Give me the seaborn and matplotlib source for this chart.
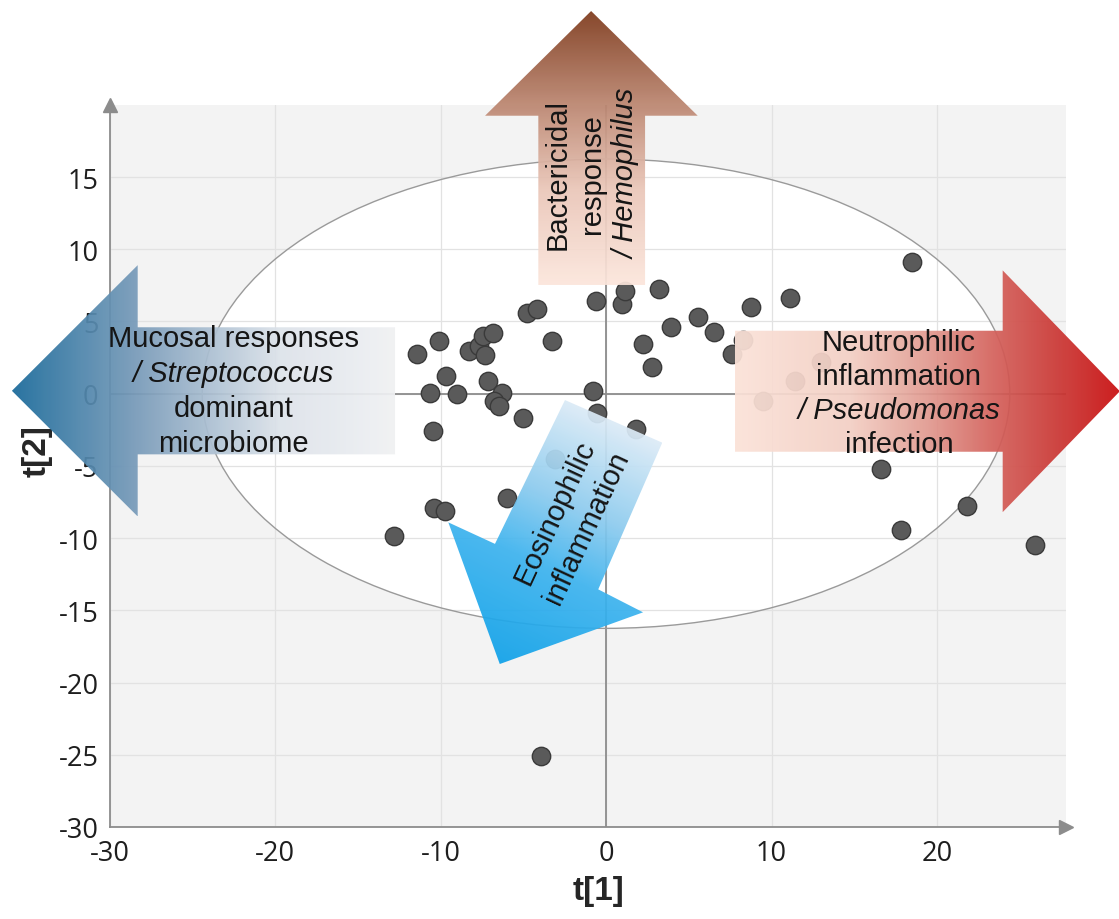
import numpy as np
import matplotlib
matplotlib.use("Agg")
import matplotlib.pyplot as plt
from matplotlib.patches import Ellipse, Polygon
from matplotlib.colors import LinearSegmentedColormap
from matplotlib.ticker import FixedLocator
import seaborn as sns

# PCA scores: first and second component
t1 = [-11.44, -10.11, -9.67, -10.62, -9.00, -10.44, -8.30, -7.66, -7.31, -7.45,
      -6.85, -7.15, -6.30, -6.75, -6.45, -5.00, -4.80, -4.17, -3.26, -0.60,
      -0.79, -0.54, 0.97, 1.15, 3.18, 2.25, 2.76, 3.93, 5.54, 6.55,
      8.76, 11.14, 7.60, 1.80, 18.50, -12.80, -10.40, -9.70, -5.96, -3.93,
      16.60, 21.80, 17.80, 25.90, 8.30, 13.00, 11.40, 9.50, -3.10]
t2 = [2.75, 3.67, 1.25, 0.05, -0.02, -2.56, 2.98, 3.28, 2.68, 3.97,
      4.20, 0.86, 0.05, -0.48, -0.83, -1.70, 5.57, 5.87, 3.67, 6.44,
      0.21, -1.34, 6.21, 7.09, 7.25, 3.44, 1.83, 4.60, 5.29, 4.25,
      5.98, 6.63, 2.75, -2.44, 9.10, -9.83, -7.94, -8.15, -7.22, -25.10,
      -5.20, -7.80, -9.44, -10.50, 3.70, 2.20, 0.90, -0.50, -4.50]

x_ticks = [-30, -20, -10, 0, 10, 20]
x_minor = [-25, -15, -5, 5, 15, 25]
y_ticks = [-30, -25, -20, -15, -10, -5, 0, 5, 10, 15]
y_minor = [-27.5, -22.5, -17.5, -12.5, -7.5, -2.5, 2.5, 7.5, 12.5, 17.5]

# Hotelling T2 ellipse semi-axes
ellipse_a = 24.4
ellipse_b = 16.25

mucosal_lines = ["Mucosal responses", "/ Streptococcus", "dominant", "microbiome"]
bacter_lines = ["Bactericidal", "response", "/ Hemophilus"]
neutro_lines = ["Neutrophilic", "inflammation", "/ Pseudomonas", "infection"]
eosino_lines = ["Eosinophilic", "inflammation"]

sns.set_style("white")
plt.rcParams['font.family'] = ['Open Sans', 'DejaVu Sans']
plt.rcParams['axes.unicode_minus'] = False

W, H = 1119, 920
fig = plt.figure(figsize=(W / 100, H / 100), dpi=100)
ax = fig.add_axes([0.0979, 0.1001, 0.8548, 0.7848])
ax.set_facecolor('#f3f3f3')
xlim = (-30, 27.8)
ylim = (-30, 20)
ax.set_xlim(*xlim)
ax.set_ylim(*ylim)
ax.set_axisbelow(True)

# ellipse region
ax.add_patch(Ellipse((0, 0), 2 * ellipse_a, 2 * ellipse_b, facecolor='white',
                     edgecolor='none', zorder=0.2))
ax.add_patch(Ellipse((0, 0), 2 * ellipse_a, 2 * ellipse_b, facecolor='none',
                     edgecolor='#9a9a9a', lw=1.0, zorder=1.6))

ax.xaxis.set_major_locator(FixedLocator(x_ticks))
ax.xaxis.set_minor_locator(FixedLocator(x_minor))
ax.yaxis.set_major_locator(FixedLocator(y_ticks))
ax.yaxis.set_minor_locator(FixedLocator(y_minor))
ax.grid(True, which='major', color='#e2e2e2', lw=0.9)
ax.axvline(0, color='#8c8c8c', lw=1.3, zorder=1.5)
ax.axhline(0, color='#8c8c8c', lw=1.3, zorder=1.5)

for s in ['top', 'right']:
    ax.spines[s].set_visible(False)
for s in ['left', 'bottom']:
    ax.spines[s].set_color('#8c8c8c')
    ax.spines[s].set_linewidth(1.3)
ax.tick_params(which='both', direction='out', length=5, width=1,
               color='#8c8c8c', labelsize=19.5, labelcolor='#1e1e1e')
ax.tick_params(axis='x', pad=4)
ax.tick_params(axis='y', pad=3)
ax.plot(1, 0, marker='>', color='#8c8c8c', ms=10, transform=ax.transAxes,
        clip_on=False, zorder=5)
ax.plot(0, 1, marker='^', color='#8c8c8c', ms=10, transform=ax.transAxes,
        clip_on=False, zorder=5)

sns.scatterplot(x=t1, y=t2, ax=ax, s=175, color='#5a5a5a', edgecolor='#3a3a3a',
                linewidth=1.0, zorder=2, legend=False)

ax.set_xlabel('t[1]', fontsize=24, fontweight='bold', family='Liberation Sans')
ax.set_ylabel('t[2]', fontsize=24, fontweight='bold', family='Liberation Sans')
ax.xaxis.set_label_coords(0.511, -0.066)
ax.yaxis.set_label_coords(-0.060, 0.522)

# overlay sharing the data coordinates of the main axes, spanning the figure
l, b, w, h = ax.get_position().bounds
ux = (xlim[1] - xlim[0]) / w
uy = (ylim[1] - ylim[0]) / h
ov_xlim = (xlim[0] - l * ux, xlim[0] + (1 - l) * ux)
ov_ylim = (ylim[0] - b * uy, ylim[0] + (1 - b) * uy)
ov = fig.add_axes([0, 0, 1, 1], zorder=3)
ov.set_axis_off()
ov.patch.set_visible(False)
sx = w * W / (xlim[1] - xlim[0])
sy = h * H / (ylim[1] - ylim[0])


def gradient_arrow(verts, p0, p1, stops, alpha=0.93):
    verts = np.asarray(verts, dtype=float)
    xmin, ymin = verts.min(0)
    xmax, ymax = verts.max(0)
    xs = np.linspace(xmin, xmax, 500)
    ys = np.linspace(ymin, ymax, 500)
    X, Y = np.meshgrid(xs, ys)
    dx = (p1[0] - p0[0]) * sx
    dy = (p1[1] - p0[1]) * sy
    t = ((X - p0[0]) * sx * dx + (Y - p0[1]) * sy * dy) / (dx * dx + dy * dy)
    t = np.clip(t, 0, 1)
    cmap = LinearSegmentedColormap.from_list('grad', stops)
    im = ov.imshow(t, extent=(xmin, xmax, ymin, ymax), origin='lower', cmap=cmap,
                   vmin=0, vmax=1, aspect='auto', interpolation='bilinear',
                   alpha=alpha, zorder=1)
    patch = Polygon(verts, closed=True, transform=ov.transData,
                    facecolor='none', edgecolor='none')
    ov.add_patch(patch)
    im.set_clip_path(patch)


def arrow_text(lines, center, rotation, spacing, italic_idx=()):
    th = np.deg2rad(rotation)
    n = len(lines)
    for i, line in enumerate(lines):
        k = i - (n - 1) / 2
        off = (k * spacing * np.sin(th), -k * spacing * np.cos(th))
        ov.annotate(line, xy=center, xytext=off, textcoords='offset pixels',
                    ha='center', va='center', rotation=rotation,
                    rotation_mode='anchor', fontsize=21, color='#151515',
                    family='Liberation Sans',
                    style='italic' if i in italic_idx else 'normal', zorder=4)


# left arrow: mucosal responses
gradient_arrow([(-35.9, 0.2), (-28.3, 8.9), (-28.3, 4.6), (-12.75, 4.6),
                (-12.75, -4.2), (-28.3, -4.2), (-28.3, -8.5)],
               (-35.9, 0.2), (-12.75, 0.2),
               [(0, '#1a6a9a'), (0.33, '#7a9cba'), (0.7, '#dde3ea'), (1, '#f0f1f3')])
# top arrow: bactericidal response
gradient_arrow([(-0.9, 26.5), (5.54, 19.25), (2.36, 19.25), (2.36, 7.53),
                (-4.09, 7.53), (-4.09, 19.25), (-7.31, 19.25)],
               (-0.9, 26.5), (-0.9, 7.53),
               [(0, '#7e3a1c'), (0.38, '#c28e79'), (0.65, '#eac6b8'), (1, '#fce6dc')])
# right arrow: neutrophilic inflammation
gradient_arrow([(7.79, 4.36), (23.97, 4.36), (23.97, 8.54), (31.05, 0.17),
                (23.97, -8.2), (23.97, -4.02), (7.79, -4.02)],
               (7.79, 0.17), (31.05, 0.17),
               [(0, '#fbe2d8'), (0.3, '#f3cfc4'), (0.5, '#e19a90'), (0.67, '#d4625c'),
                (0.85, '#cb3532'), (1, '#c80d0e')])
# diagonal arrow: eosinophilic inflammation
gradient_arrow([(-2.48, -0.44), (3.40, -3.39), (-0.47, -13.55), (2.24, -15.14),
                (-6.42, -18.72), (-9.53, -8.91), (-6.71, -10.4)],
               (0.46, -1.915), (-6.42, -18.72),
               [(0, '#dcebf7'), (0.35, '#8ccbee'), (0.6, '#3db3ee'), (1, '#10a2e9')])

arrow_text(mucosal_lines, (-22.5, 0.2), 0, 35, italic_idx=(1,))
arrow_text(bacter_lines, (-0.85, 15.27), 90, 34.5, italic_idx=(2,))
arrow_text(neutro_lines, (17.7, 0.05), 0, 34, italic_idx=(2,))
arrow_text(eosino_lines, (-2.11, -8.68), 65, 35)

ov.set_xlim(*ov_xlim)
ov.set_ylim(*ov_ylim)

fig.savefig('out.png', dpi=100)
